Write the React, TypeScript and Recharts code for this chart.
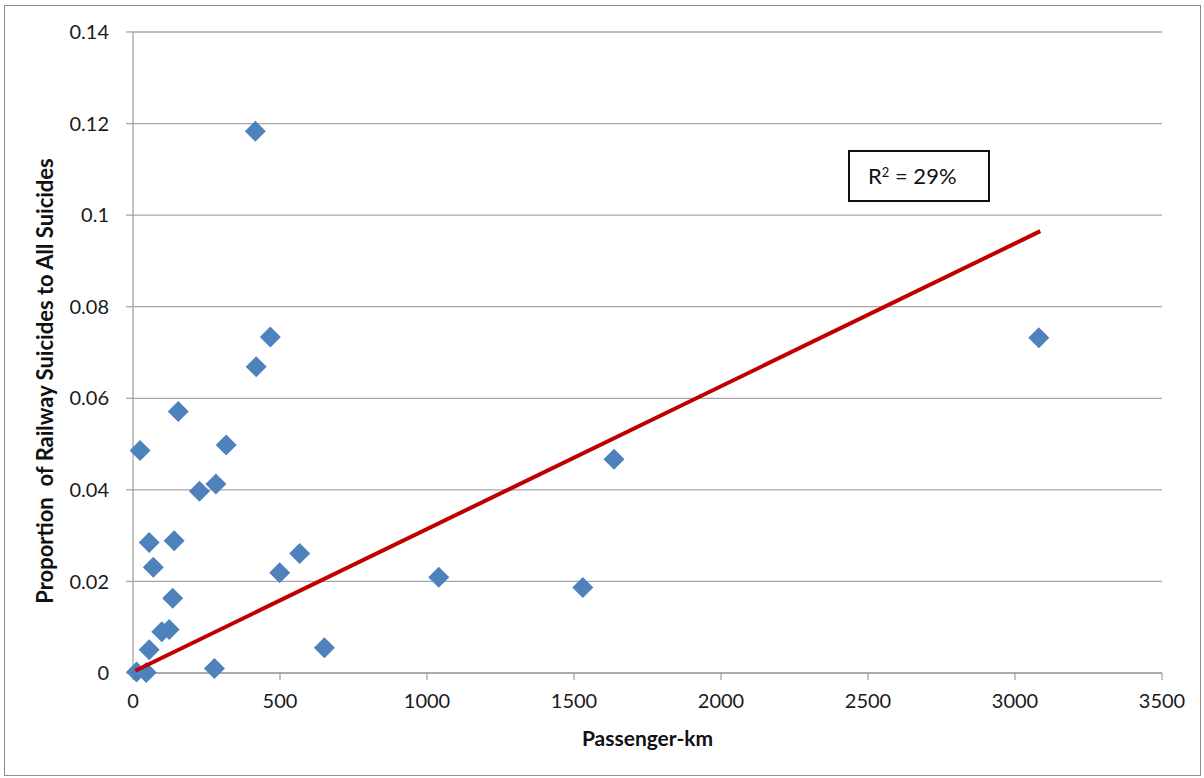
import {
  ScatterChart,
  Scatter,
  XAxis,
  YAxis,
  CartesianGrid,
  Label,
} from 'recharts';

// passenger-km per country and share of railway suicides
const passengerKm = [
  12, 45, 55, 24, 154, 317, 226, 282, 55, 140, 69, 135, 499, 567, 98, 123, 651, 277, 416, 467,
  419, 1040, 1530, 1636, 3081,
];
const railwayShare = [
  0.0002, 0.0001, 0.0051, 0.0486, 0.0571, 0.0498, 0.0397, 0.0413, 0.0285, 0.0289, 0.0231,
  0.0163, 0.0219, 0.0261, 0.009, 0.0095, 0.0055, 0.001, 0.1183, 0.0734, 0.0669, 0.0209, 0.0187,
  0.0467, 0.0732,
];

// linear trend endpoints
const trendX = [8, 3086];
const trendY = [0.0005, 0.0965];

const xTicks = [0, 500, 1000, 1500, 2000, 2500, 3000, 3500];
const yTicks = [0, 0.02, 0.04, 0.06, 0.08, 0.1, 0.12, 0.14];

const points = passengerKm.map((x, i) => ({ x, y: railwayShare[i] }));
const trend = trendX.map((x, i) => ({ x, y: trendY[i] }));

const FONT = 'Lato, "Open Sans", sans-serif';
const GRID = '#a6a6a6';

function Diamond(props: any) {
  const { cx, cy } = props;
  if (cx == null || cy == null) return <g />;
  const r = 10.5;
  return (
    <polygon
      points={`${cx},${cy - r} ${cx + r},${cy} ${cx},${cy + r} ${cx - r},${cy}`}
      fill="#4f81bd"
    />
  );
}

const NoDot = () => <g />;

export default function App() {
  return (
    <div
      style={{
        position: 'absolute',
        left: 0,
        top: 0,
        width: 1204,
        height: 778,
        background: '#fff',
        fontFamily: FONT,
      }}
    >
      <div
        style={{
          position: 'absolute',
          left: 4,
          top: 5,
          width: 1195,
          height: 769,
          border: '1.5px solid #8c8c8c',
        }}
      />
      <ScatterChart
        width={1204}
        height={778}
        margin={{ top: 32, right: 42, bottom: 75, left: 73 }}
        style={{ position: 'absolute', left: 0, top: 0 }}
      >
        <CartesianGrid vertical={false} stroke={GRID} strokeWidth={1.3} />
        <XAxis
          type="number"
          dataKey="x"
          domain={[0, 3500]}
          ticks={xTicks}
          height={30}
          tickSize={7}
          tickMargin={14}
          stroke={GRID}
          strokeWidth={1.3}
          tick={{ fill: '#1a1a1a', fontSize: 20, fontFamily: FONT }}
        >
          <Label
            content={({ viewBox }: any) => (
              <text
                x={viewBox.x + viewBox.width / 2}
                y={746}
                textAnchor="middle"
                fontFamily={FONT}
                fontWeight="bold"
                fontSize={21}
                fill="#111"
              >
                Passenger-km
              </text>
            )}
          />
        </XAxis>
        <YAxis
          type="number"
          dataKey="y"
          domain={[0, 0.14]}
          ticks={yTicks}
          width={60}
          tickSize={7}
          tickMargin={17}
          stroke={GRID}
          strokeWidth={1.3}
          tick={{ fill: '#1a1a1a', fontSize: 20, fontFamily: FONT }}
          tickFormatter={(v: number) => String(v)}
        >
          <Label
            content={() => (
              <text
                x={53}
                y={381}
                transform="rotate(-90 53 381)"
                textAnchor="middle"
                fontFamily={FONT}
                fontWeight="bold"
                fontSize={22}
                fill="#111"
                style={{ whiteSpace: 'pre' }}
              >
                Proportion  of Railway Suicides to All Suicides
              </text>
            )}
          />
        </YAxis>
        <Scatter data={points} shape={Diamond} isAnimationActive={false} />
        <Scatter
          data={trend}
          shape={NoDot}
          line={{ stroke: '#c00000', strokeWidth: 4 }}
          isAnimationActive={false}
        />
      </ScatterChart>
      <div
        style={{
          position: 'absolute',
          left: 848,
          top: 150,
          width: 138,
          height: 48,
          border: '2px solid #111',
          background: '#fff',
          boxSizing: 'content-box',
          fontSize: 22,
          color: '#111',
          lineHeight: '48px',
        }}
      >
        <span style={{ marginLeft: 18 }}>
          R<sup style={{ fontSize: 13, verticalAlign: 'top', lineHeight: '40px' }}>2</sup> = 29%
        </span>
      </div>
    </div>
  );
}
